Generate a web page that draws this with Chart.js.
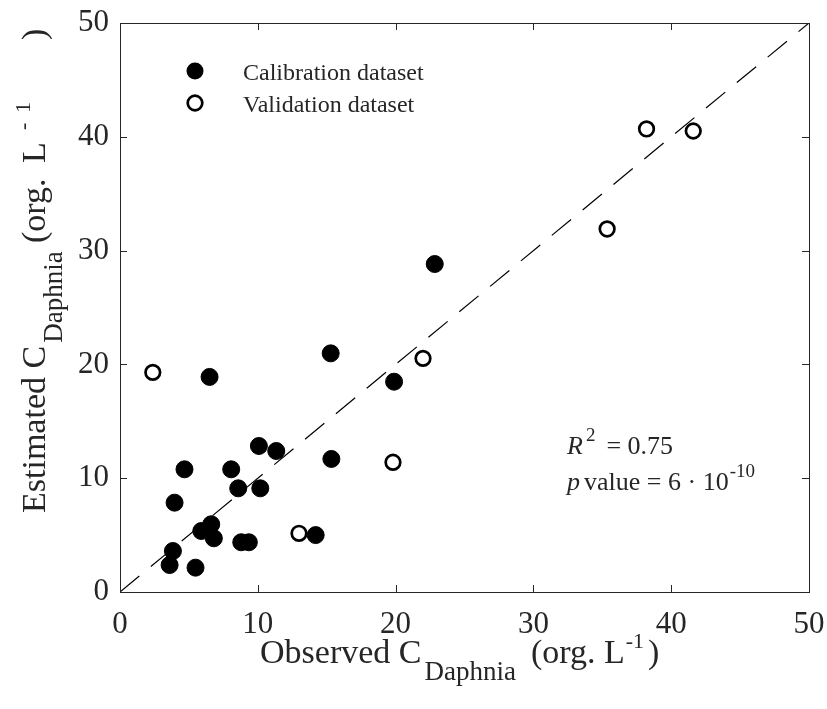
<!DOCTYPE html>
<html>
<head>
<meta charset="utf-8">
<script src="https://cdn.jsdelivr.net/npm/chart.js@4"></script>
<style>
  html, body { margin: 0; padding: 0; background: #fff; }
  #wrap { width: 827px; height: 709px; position: relative; }
</style>
</head>
<body>
<div id="wrap"><canvas id="scatter"></canvas></div>
<script>
// Observed vs estimated Daphnia densities (org. L-1)
const calibObserved = [22.84, 15.29, 6.5, 19.89, 10.08, 11.34, 15.34, 4.68, 8.07, 8.58, 10.18, 3.96, 5.9, 6.62, 6.81, 8.8, 9.35, 14.2, 3.84, 3.6, 5.48];
const calibEstimated = [28.82, 20.97, 18.9, 18.48, 12.83, 12.39, 11.69, 10.78, 10.78, 9.11, 9.11, 7.85, 5.36, 5.95, 4.72, 4.37, 4.37, 5.0, 3.6, 2.37, 2.14];
const validObserved = [2.38, 12.99, 19.81, 21.99, 35.35, 38.21, 41.6];
const validEstimated = [19.3, 5.16, 11.4, 20.53, 31.9, 40.69, 40.51];
const oneToOne = [0, 50];
const tickValues = [0, 10, 20, 30, 40, 50];

const FONT = '"Liberation Serif", "Times New Roman", serif';
const INK = '#262626';

function toPoints(xs, ys) {
    return xs.map((x, i) => ({ x: x, y: ys[i] }));
}

// draws text pieces along a baseline (for sub/superscripts);
// a piece either follows the previous one (gap) or sits at a fixed offset (at)
function drawPieces(ctx, x, y, pieces, angle) {
    ctx.save();
    ctx.translate(x, y);
    if (angle) ctx.rotate(angle);
    ctx.textBaseline = 'alphabetic';
    ctx.textAlign = 'left';
    ctx.fillStyle = INK;
    let cx = 0;
    pieces.forEach(p => {
        ctx.font = (p.italic ? 'italic ' : '') + p.size + 'px ' + FONT;
        cx = p.at !== undefined ? p.at : cx + (p.gap || 0);
        ctx.fillText(p.t, cx, p.dy || 0);
        cx += ctx.measureText(p.t).width;
    });
    ctx.restore();
}

const framePlugin = {
    id: 'frame',
    beforeDraw(chart) {
        const ctx = chart.ctx;
        ctx.save();
        ctx.fillStyle = '#fff';
        ctx.fillRect(0, 0, chart.width, chart.height);
        ctx.restore();
    },
    afterDraw(chart) {
        const ctx = chart.ctx;
        const a = chart.chartArea;
        const xs = chart.scales.x, ys = chart.scales.y;
        const len = 7;
        ctx.save();
        ctx.strokeStyle = INK;
        ctx.lineWidth = 1;
        ctx.strokeRect(Math.round(a.left) + 0.5, Math.round(a.top) + 0.5,
            Math.round(a.right - a.left), Math.round(a.bottom - a.top));
        ctx.beginPath();
        tickValues.forEach(v => {
            const px = Math.round(xs.getPixelForValue(v)) + 0.5;
            ctx.moveTo(px, a.bottom); ctx.lineTo(px, a.bottom - len);
            ctx.moveTo(px, a.top); ctx.lineTo(px, a.top + len);
            const py = Math.round(ys.getPixelForValue(v)) + 0.5;
            ctx.moveTo(a.left, py); ctx.lineTo(a.left + len, py);
            ctx.moveTo(a.right, py); ctx.lineTo(a.right - len, py);
        });
        ctx.stroke();

        // legend
        ctx.fillStyle = '#000';
        ctx.beginPath();
        ctx.arc(195, 71, 8.5, 0, Math.PI * 2);
        ctx.fill();
        ctx.lineWidth = 2.7;
        ctx.strokeStyle = '#000';
        ctx.beginPath();
        ctx.arc(195, 103, 7.3, 0, Math.PI * 2);
        ctx.stroke();
        ctx.restore();
        drawPieces(ctx, 243, 80, [{ t: 'Calibration dataset', size: 24 }]);
        drawPieces(ctx, 243, 112, [{ t: 'Validation dataset', size: 24 }]);

        // fit statistics
        drawPieces(ctx, 567, 454, [
            { t: 'R', size: 26, italic: true },
            { t: '2', size: 19, dy: -13, gap: 3 },
            { t: '= 0.75', size: 26, gap: 11 }
        ]);
        drawPieces(ctx, 567, 490, [
            { t: 'p', size: 26, italic: true },
            { t: 'value = 6 \u00b7 10', size: 26, gap: 4 },
            { t: '-10', size: 19, dy: -13, gap: 1 }
        ]);

        // axis titles
        drawPieces(ctx, 260, 663, [
            { t: 'Observed C', size: 34 },
            { t: 'Daphnia', size: 27, dy: 17, gap: 3 },
            { t: '(org. L', size: 34, gap: 15 },
            { t: '-1', size: 22, dy: -15, gap: 1 },
            { t: ')', size: 34, gap: 4 }
        ]);
        drawPieces(ctx, 45, 513, [
            { t: 'Estimated C', size: 34 },
            { t: 'Daphnia', size: 27, dy: 17, gap: 3 },
            { t: '(org.', size: 34, at: 270 },
            { t: 'L', size: 34, at: 350 },
            { t: '-', size: 22, dy: -15, at: 383 },
            { t: '1', size: 22, dy: -15, at: 400 },
            { t: ')', size: 34, at: 473 }
        ], -Math.PI / 2);
    }
};

const axisCommon = {
    type: 'linear',
    min: 0,
    max: 50,
    grid: { display: false },
    border: { display: false },
    ticks: {
        stepSize: 10,
        color: INK,
        font: { family: FONT, size: 31 }
    }
};

new Chart(document.getElementById('scatter'), {
    type: 'scatter',
    data: {
        datasets: [
            {
                label: 'Calibration dataset',
                data: toPoints(calibObserved, calibEstimated),
                backgroundColor: '#000',
                borderColor: '#000',
                borderWidth: 1,
                pointRadius: 8.5,
                order: 1
            },
            {
                label: 'Validation dataset',
                data: toPoints(validObserved, validEstimated),
                backgroundColor: '#fff',
                borderColor: '#000',
                borderWidth: 2.7,
                pointRadius: 7.3,
                order: 2
            },
            {
                type: 'line',
                label: '1:1',
                data: toPoints(oneToOne, oneToOne),
                borderColor: '#000',
                borderWidth: 1.2,
                borderDash: [25, 15],
                pointRadius: 0,
                fill: false,
                order: 3
            }
        ]
    },
    options: {
        responsive: true,
        maintainAspectRatio: false,
        animation: false,
        layout: { padding: { top: 23, right: 18, left: 0, bottom: 0 } },
        plugins: {
            legend: { display: false },
            tooltip: { enabled: false }
        },
        scales: {
            x: {
                ...axisCommon,
                ticks: { ...axisCommon.ticks, padding: 6 },
                afterFit: s => {
                    s.height = 117;
                    s.paddingLeft = 0;
                    s.paddingRight = 0;
                }
            },
            y: {
                ...axisCommon,
                ticks: { ...axisCommon.ticks, padding: 3 },
                afterFit: s => {
                    s.width = 120;
                    s.paddingTop = 0;
                    s.paddingBottom = 0;
                }
            }
        }
    },
    plugins: [framePlugin]
});
</script>
</body>
</html>
